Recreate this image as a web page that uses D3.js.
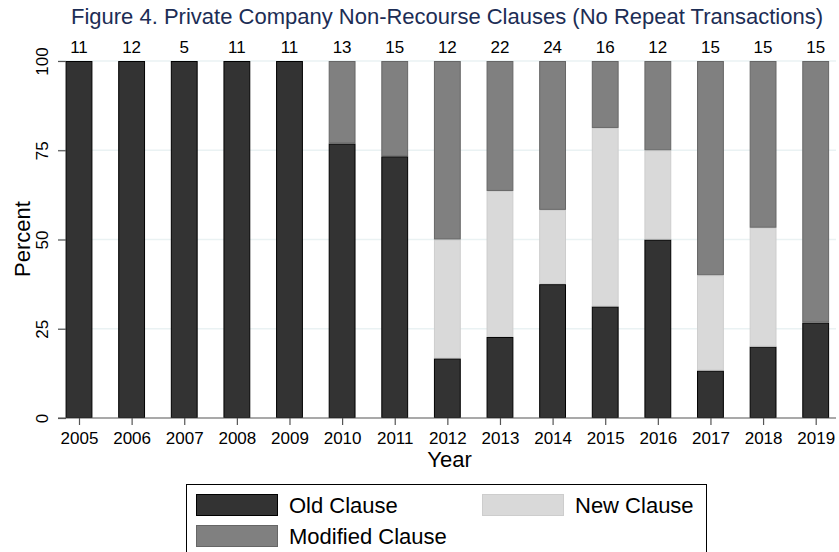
<!DOCTYPE html>
<html><head><meta charset="utf-8">
<script src="https://cdn.jsdelivr.net/npm/d3@7"></script>
<style>body{margin:0;background:#fff;}svg{display:block;font-family:"Liberation Sans",Arial,sans-serif;}</style>
</head><body>
<svg id="c" width="839" height="552"></svg>
<script>
const years = ["2005","2006","2007","2008","2009","2010","2011","2012","2013","2014","2015","2016","2017","2018","2019"];
const counts = [11,12,5,11,11,13,15,12,22,24,16,12,15,15,15];
const oldClause = [100,100,100,100,100,76.9,73.3,16.7,22.7,37.5,31.25,50,13.3,20,26.7];
const newClause = [0,0,0,0,0,0,0,33.3,40.9,20.8,50,25,26.7,33.3,0];
const modifiedClause = [0,0,0,0,0,23.1,26.7,50,36.4,41.7,18.75,25,60,46.7,73.3];
const yTicks = [0,25,50,75,100];
const seriesNames = ["Old Clause","New Clause","Modified Clause"];

const svg = d3.select("#c");
const FONT = "Liberation Sans, Arial, sans-serif";
const fills = {"Old Clause":"#333333","New Clause":"#d9d9d9","Modified Clause":"#808080"};
const strokes = {"Old Clause":"#000000","New Clause":"#cdcdcd","Modified Clause":"#666666"};

const x = d3.scalePoint().domain(years).range([79,815.7]);
const bw = x.step()*0.51;
const y = d3.scaleLinear().domain([0,100]).range([418,61]);

// grid
svg.append("g").selectAll("line").data(yTicks.filter(d=>d>0)).join("line")
  .attr("x1",58).attr("x2",836).attr("y1",d=>y(d)).attr("y2",d=>y(d))
  .attr("stroke","#eaf2f3").attr("stroke-width",1.3);

// stacked data
const rows = years.map((yr,i)=>({year:yr,"Old Clause":oldClause[i],"New Clause":newClause[i],"Modified Clause":modifiedClause[i]}));
const stack = d3.stack().keys(seriesNames)(rows);
svg.append("g").selectAll("g").data(stack).join("g")
  .attr("fill",s=>fills[s.key]).attr("stroke",s=>strokes[s.key]).attr("stroke-width",1)
  .selectAll("rect").data(s=>s.filter(d=>d[1]-d[0]>0)).join("rect")
  .attr("x",d=>x(d.data.year)-bw/2+0.5).attr("width",bw-1)
  .attr("y",d=>y(d[1])+0.5).attr("height",d=>y(d[0])-y(d[1])-1);

// x axis
const xa = svg.append("g").attr("transform","translate(0,418)")
  .call(d3.axisBottom(x).tickSize(7).tickPadding(3));
xa.select(".domain").remove();
xa.append("line").attr("x1",58).attr("x2",836).attr("stroke","#555").attr("stroke-width",1.2);
xa.selectAll(".tick line").attr("stroke","#555").attr("stroke-width",1.2);
xa.selectAll(".tick text").attr("font-size",17).attr("fill","#000").attr("font-family",FONT)
  .attr("dy",0).attr("y",26);

// y axis
const ya = svg.append("g").attr("transform","translate(66,0)")
  .call(d3.axisLeft(y).tickValues(yTicks).tickSize(8).tickPadding(5));
ya.select(".domain").remove();
ya.selectAll(".tick line").attr("stroke","#555").attr("stroke-width",1.2);
ya.selectAll(".tick text").attr("font-size",17).attr("fill","#000")
  .attr("font-family",FONT)
  .attr("text-anchor","middle").attr("dy",0).attr("x",0)
  .attr("transform","translate(-17.7,0) rotate(-90)");

// count labels
svg.append("g").selectAll("text").data(years).join("text")
  .attr("x",d=>x(d)).attr("y",52.5).attr("text-anchor","middle")
  .attr("font-size",17).attr("fill","#000").text((d,i)=>counts[i]);

// titles
svg.append("text").attr("x",447).attr("y",24).attr("text-anchor","middle")
  .attr("font-size",22).attr("fill","#1c2d55")
  .text("Figure 4. Private Company Non-Recourse Clauses (No Repeat Transactions)");
svg.append("text").attr("x",449.5).attr("y",467).attr("text-anchor","middle")
  .attr("font-size",22).attr("fill","#000").text("Year");
svg.append("text").attr("transform","translate(29.5,239) rotate(-90)").attr("text-anchor","middle")
  .attr("font-size",22).attr("fill","#000").text("Percent");

// legend
const lg = svg.append("g");
lg.append("rect").attr("x",186.5).attr("y",484.5).attr("width",520).attr("height",80)
  .attr("fill","#fff").attr("stroke","#000").attr("stroke-width",1);
const legendItems = [
  {name:"Old Clause",kx:196,ky:494},
  {name:"New Clause",kx:482,ky:494},
  {name:"Modified Clause",kx:196,ky:525}
];
legendItems.forEach(it=>{
  lg.append("rect").attr("x",it.kx+0.5).attr("y",it.ky+0.5).attr("width",81).attr("height",21)
    .attr("fill",fills[it.name]).attr("stroke",strokes[it.name]);
  lg.append("text").attr("x",it.kx+93).attr("y",it.ky+19).attr("font-size",22).attr("fill","#000").text(it.name);
});
</script>
</body></html>
